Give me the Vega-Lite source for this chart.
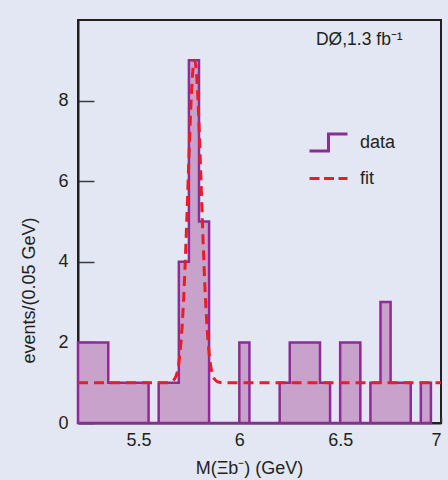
{
  "$schema": "https://vega.github.io/schema/vega-lite/v6.json",
  "width": 363,
  "height": 403,
  "autosize": {"type": "none"},
  "padding": {"left": 78, "top": 20, "right": 7, "bottom": 57},
  "background": "#e3e7f3",
  "config": {
    "view": {"stroke": "#231f20", "strokeWidth": 2},
    "font": "Liberation Sans",
    "axis": {
      "grid": false,
      "domainColor": "#231f20",
      "domainWidth": 2,
      "tickColor": "#3a3a3a",
      "tickWidth": 1.5,
      "labelFont": "Liberation Sans",
      "labelFontSize": 18,
      "labelColor": "#231f20",
      "titleFont": "Liberation Sans",
      "titleFontSize": 18,
      "titleFontWeight": "normal",
      "titleColor": "#231f20"
    },
    "legend": {
      "orient": "none", "title": null, "padding": 0, "rowPadding": 0,
      "symbolSize": 1444, "symbolStrokeWidth": 3,
      "labelFont": "Liberation Sans", "labelFontSize": 18, "labelColor": "#231f20", "labelOffset": 11
    }
  },
  "datasets": {
    "hist": [
      {"m": 5.20, "events": 2}, {"m": 5.25, "events": 2}, {"m": 5.30, "events": 2},
      {"m": 5.35, "events": 1}, {"m": 5.40, "events": 1}, {"m": 5.45, "events": 1},
      {"m": 5.50, "events": 1}, {"m": 5.55, "events": 0}, {"m": 5.60, "events": 1},
      {"m": 5.65, "events": 1}, {"m": 5.70, "events": 4}, {"m": 5.75, "events": 9},
      {"m": 5.80, "events": 5}, {"m": 5.85, "events": 0}, {"m": 5.90, "events": 0},
      {"m": 5.95, "events": 0}, {"m": 6.00, "events": 2}, {"m": 6.05, "events": 0},
      {"m": 6.10, "events": 0}, {"m": 6.15, "events": 0}, {"m": 6.20, "events": 1},
      {"m": 6.25, "events": 2}, {"m": 6.30, "events": 2}, {"m": 6.35, "events": 2},
      {"m": 6.40, "events": 1}, {"m": 6.45, "events": 0}, {"m": 6.50, "events": 2},
      {"m": 6.55, "events": 2}, {"m": 6.60, "events": 0}, {"m": 6.65, "events": 1},
      {"m": 6.70, "events": 3}, {"m": 6.75, "events": 1}, {"m": 6.80, "events": 1},
      {"m": 6.85, "events": 0}, {"m": 6.90, "events": 1}, {"m": 6.95, "events": 0}
    ],
    "fit": [
      {"m": 5.20, "f": 1.0}, {"m": 5.60, "f": 1.0}, {"m": 5.65, "f": 1.0},
      {"m": 5.68, "f": 1.1}, {"m": 5.70, "f": 1.49}, {"m": 5.72, "f": 2.71},
      {"m": 5.73, "f": 3.78}, {"m": 5.74, "f": 5.12}, {"m": 5.75, "f": 6.58},
      {"m": 5.76, "f": 7.89}, {"m": 5.77, "f": 8.77}, {"m": 5.778, "f": 9.0},
      {"m": 5.79, "f": 8.49}, {"m": 5.80, "f": 7.41}, {"m": 5.81, "f": 6.0},
      {"m": 5.82, "f": 4.56}, {"m": 5.83, "f": 3.31}, {"m": 5.84, "f": 2.37},
      {"m": 5.85, "f": 1.74}, {"m": 5.86, "f": 1.36}, {"m": 5.88, "f": 1.07},
      {"m": 5.90, "f": 1.01}, {"m": 5.92, "f": 1.0}, {"m": 7.00, "f": 1.0}
    ],
    "note": [{"label": "DØ,1.3 fb⁻¹"}]
  },
  "resolve": {"scale": {"stroke": "independent"}, "legend": {"stroke": "independent"}},
  "layer": [
    {
      "data": {"name": "hist"},
      "mark": {"type": "area", "interpolate": "step-after", "fill": "#c9a2cb", "strokeWidth": 2.5},
      "encoding": {
        "x": {
          "field": "m", "type": "quantitative",
          "scale": {"domain": [5.2, 7], "nice": false, "zero": false},
          "axis": {
            "values": [5.5, 6, 6.5, 7], "format": ".1~f", "tickSize": -6, "labelPadding": 14,
            "title": "M(Ξb⁻) (GeV)", "titleX": 171, "titleY": 50, "titleBaseline": "alphabetic"
          }
        },
        "y": {
          "field": "events", "type": "quantitative",
          "scale": {"domain": [0, 10], "nice": false},
          "axis": {
            "values": [0, 2, 4, 6, 8], "tickSize": -16, "labelPadding": 26,
            "title": "events/(0.05 GeV)", "titleX": -49, "titleY": 270,
            "titleAngle": -90, "titleAlign": "center", "titleBaseline": "middle"
          }
        },
        "stroke": {
          "datum": "data", "type": "nominal",
          "scale": {"domain": ["data"], "range": ["#8e2b97"]},
          "legend": {
            "legendX": 230, "legendY": 102,
            "symbolType": "M-1,0.45H0V-0.45H1H0V0.45Z",
            "symbolFillColor": "transparent"
          }
        }
      }
    },
    {
      "data": {"name": "fit"},
      "mark": {"type": "line", "interpolate": "monotone", "strokeWidth": 3, "strokeDash": [10, 6]},
      "encoding": {
        "x": {"field": "m", "type": "quantitative"},
        "y": {"field": "f", "type": "quantitative"},
        "stroke": {
          "datum": "fit", "type": "nominal",
          "scale": {"domain": ["fit"], "range": ["#ed1c24"]},
          "legend": {
            "legendX": 230, "legendY": 138,
            "symbolType": "stroke",
            "symbolDash": [10, 4.5]
          }
        }
      }
    },
    {
      "data": {"name": "note"},
      "mark": {"type": "text", "align": "left", "baseline": "middle", "fontSize": 17.5, "color": "#231f20", "font": "Liberation Sans"},
      "encoding": {
        "x": {"datum": 6.38, "type": "quantitative"},
        "y": {"datum": 9.5, "type": "quantitative"},
        "text": {"field": "label", "type": "nominal"}
      }
    }
  ]
}
